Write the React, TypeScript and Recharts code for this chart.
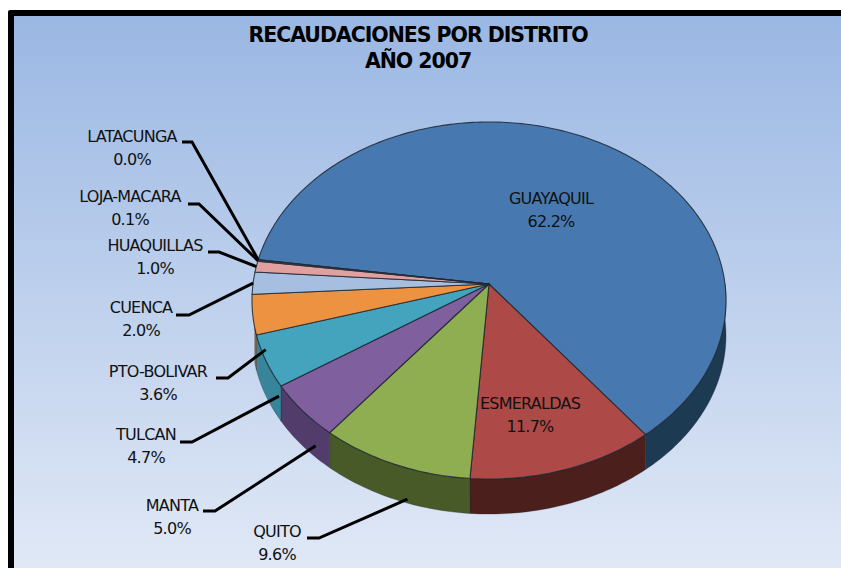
import { PieChart, Pie } from "recharts";

const DISTRICTS = [
  "GUAYAQUIL",
  "ESMERALDAS",
  "QUITO",
  "MANTA",
  "TULCAN",
  "PTO-BOLIVAR",
  "CUENCA",
  "HUAQUILLAS",
  "LOJA-MACARA",
  "LATACUNGA",
];
const SHARES = [62.2, 11.7, 9.6, 5.0, 4.7, 3.6, 2.0, 1.0, 0.1, 0.04];
const TOP_COLORS = ["#4779b0", "#ad4a47", "#8fae52", "#7f5f9e", "#44a3bd", "#ed9240", "#a6bfe0", "#e0a0a0", "#c8d8a0", "#b8a8d0"];
const WALL_COLORS = ["#1c3a52", "#4a1f1c", "#485a28", "#523c6b", "#38859b", "#a8642a", "#7086a4", "#a07070", "#888", "#888"];

// where the labels sit (centre x, y of first line), same order as DISTRICTS
const LABEL_X = [551, 530, 277, 172, 146, 158, 141, 155, 130, 132];
const LABEL_Y = [199, 404, 532, 506, 435, 372, 308, 246, 197, 137];
// elbow of the leader: start x, end x, y. null for labels inside the pie
const LEADERS: ([number, number, number] | null)[] = [
  null,
  null,
  [307, 319, 538],
  [203, 215, 511],
  [180, 192, 442],
  [216, 228, 378],
  [176, 189, 315],
  [208, 219, 252],
  [188, 199, 204],
  [182, 192, 142],
];

const data = DISTRICTS.map((name, i) => ({
  name,
  value: SHARES[i],
  fill: TOP_COLORS[i],
}));
const wallData = DISTRICTS.map((name, i) => ({
  name,
  value: SHARES[i],
  fill: WALL_COLORS[i],
}));

const START = 172;
const FONT = "'DejaVu Sans', Verdana, sans-serif";
const WALL = 35;
const TILT = 0.75; // flattening of the disc
const PERSP = 0.0925; // front of the disc is bigger than the back

// tilted disc with a bit of perspective, angle in degrees
function project(cx: number, cy: number, r: number, deg: number) {
  const t = (deg * Math.PI) / 180;
  const w = 1 + PERSP * Math.sin(t);
  return {
    x: cx + (r * Math.cos(t)) / w,
    y: cy - (r * TILT * Math.sin(t)) / w,
  };
}

function arcPoints(cx: number, cy: number, r: number, from: number, to: number) {
  const pts = [];
  const steps = Math.max(2, Math.ceil(Math.abs(from - to)));
  for (let i = 0; i <= steps; i++) {
    pts.push(project(cx, cy, r, from + ((to - from) * i) / steps));
  }
  return pts;
}

function TopSlice(p: any) {
  const pts = arcPoints(p.cx, p.cy, p.outerRadius, p.startAngle, p.endAngle);
  const d =
    `M${p.cx},${p.cy} ` + pts.map((q) => `L${q.x},${q.y}`).join(" ") + " Z";
  return <path d={d} fill={p.fill} stroke="#1d2630" strokeOpacity={0.85} strokeWidth={1.1} />;
}

function WallSlice(p: any) {
  // only the front of the disc shows a side wall
  const from = Math.min(p.startAngle, 0);
  const to = Math.max(p.endAngle, -166);
  if (from <= to) return <g />;
  const pts = arcPoints(p.cx, p.cy, p.outerRadius, from, to);
  const low = [...pts].reverse().map((q) => ({ x: q.x, y: q.y + WALL }));
  const d =
    [...pts, ...low].map((q, i) => `${i ? "L" : "M"}${q.x},${q.y}`).join(" ") + " Z";
  return <path d={d} fill={p.fill} stroke="#1d2630" strokeOpacity={0.5} strokeWidth={0.6} />;
}

function LeaderLine(p: any) {
  const leader = LEADERS[p.index];
  if (!leader) return <g />;
  const sinMid = Math.sin((p.midAngle * Math.PI) / 180);
  const tip = project(p.cx, p.cy, p.outerRadius, p.midAngle);
  const front = sinMid < 0;
  const x = tip.x + (front ? 13 : 0);
  const y = tip.y + (front ? WALL : 0);
  return (
    <polyline
      points={`${leader[0]},${leader[2]} ${leader[1]},${leader[2]} ${x},${y}`}
      fill="none"
      stroke="#000"
      strokeWidth={3}
    />
  );
}

function SliceLabel(p: any) {
  const x = LABEL_X[p.index];
  const y = LABEL_Y[p.index];
  return (
    <text
      x={x}
      y={y}
      textAnchor="middle"
      fontFamily={FONT}
      fontSize={16}
      letterSpacing={-0.75}
      fill="#111"
    >
      <tspan x={x} dy={5}>
        {DISTRICTS[p.index]}
      </tspan>
      <tspan x={x} dy={23}>
        {SHARES[p.index].toFixed(1)}%
      </tspan>
    </text>
  );
}

export default function App() {
  return (
    <div
      style={{
        position: "fixed",
        left: 0,
        top: 0,
        width: 841,
        height: 568,
        overflow: "hidden",
        background: "#fff",
      }}
    >
      <div
        style={{
          position: "absolute",
          left: 8,
          top: 10,
          width: 860,
          height: 580,
          border: "6px solid #000",
          borderRadius: 2,
          background: "linear-gradient(#9ab7e3, #e4ebf7)",
        }}
      />
      <div style={{ position: "absolute", left: 0, top: 0 }}>
        <PieChart width={841} height={568} margin={{ top: 0, right: 0, bottom: 0, left: 0 }}>
          <text
            x={418}
            y={42}
            textAnchor="middle"
            fontFamily={FONT}
            fontWeight="bold"
            fontSize={20.5}
            letterSpacing={-1.05}
            fill="#000"
          >
            <tspan x={418}>RECAUDACIONES POR DISTRITO</tspan>
            <tspan x={418} dy={26}>
              AÑO 2007
            </tspan>
          </text>
          <Pie
            data={data}
            dataKey="value"
            nameKey="name"
            cx={489}
            cy={284}
            outerRadius={236}
            startAngle={START}
            endAngle={START - 360}
            shape={() => <g />}
            label={LeaderLine}
            labelLine={false}
            isAnimationActive={false}
          />
          <Pie
            data={wallData}
            dataKey="value"
            cx={489}
            cy={284}
            outerRadius={236}
            startAngle={START}
            endAngle={START - 360}
            shape={WallSlice}
            isAnimationActive={false}
          />
          <Pie
            data={data}
            dataKey="value"
            cx={489}
            cy={284}
            outerRadius={236}
            startAngle={START}
            endAngle={START - 360}
            shape={TopSlice}
            label={SliceLabel}
            labelLine={false}
            isAnimationActive={false}
          />
        </PieChart>
      </div>
    </div>
  );
}
